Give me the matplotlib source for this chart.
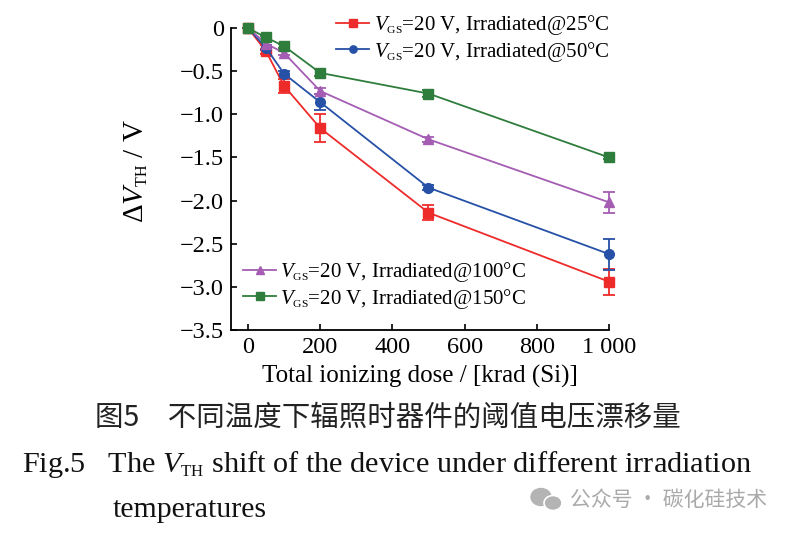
import numpy as np
import matplotlib
matplotlib.use("Agg")
import matplotlib.pyplot as plt
import matplotlib._mathtext as mtext
from matplotlib.patches import Ellipse

# smaller subscripts, closer to the journal style
mtext.SHRINK_FACTOR = 0.55

# ------------------------------ Data ------------------------------
dose = [0, 50, 100, 200, 500, 1000]

dv_25 = [0, -0.27, -0.67, -1.16, -2.14, -2.94]
err_25 = [0, 0.03, 0.08, 0.16, 0.09, 0.15]
dv_50 = [0, -0.23, -0.53, -0.86, -1.85, -2.62]
err_50 = [0, 0.03, 0.03, 0.09, 0.03, 0.18]
dv_100 = [0, -0.18, -0.29, -0.73, -1.29, -2.02]
err_100 = [0, 0.02, 0.02, 0.04, 0.03, 0.12]
dv_150 = [0, -0.11, -0.21, -0.52, -0.76, -1.50]
err_150 = [0, 0.02, 0.02, 0.04, 0.04, 0.02]

labels = [r"$V_{\mathrm{GS}}$=20 V, Irradiated@25°C",
          r"$V_{\mathrm{GS}}$=20 V, Irradiated@50°C",
          r"$V_{\mathrm{GS}}$=20 V, Irradiated@100°C",
          r"$V_{\mathrm{GS}}$=20 V, Irradiated@150°C"]

x_ticks = [0, 200, 400, 600, 800, 1000]
x_ticklabels = ["0", "200", "400", "600", "800", "1 000"]
y_ticks = [0, -0.5, -1.0, -1.5, -2.0, -2.5, -3.0, -3.5]
y_ticklabels = ["0", "\u22120.5", "\u22121.0", "\u22121.5", "\u22122.0",
                "\u22122.5", "\u22123.0", "\u22123.5"]

# --------------------------- Style ---------------------------
plt.rcParams['font.family'] = ['Liberation Serif', 'DejaVu Serif']
plt.rcParams['mathtext.fontset'] = 'custom'
plt.rcParams['mathtext.rm'] = 'Liberation Serif'
plt.rcParams['mathtext.it'] = 'Liberation Serif:italic'
plt.rcParams['mathtext.bf'] = 'Liberation Serif:bold'

C_RED = "#ee2b2b"
C_BLUE = "#2651a6"
C_PURPLE = "#a45db3"
C_GREEN = "#2f7d3c"

fig = plt.figure(figsize=(7.94, 5.34), dpi=100)
ax = fig.add_axes([231/794, 1-330/534, (609-231)/794, (330-28)/534])

series = [(dv_25, err_25, C_RED, 's'),
          (dv_50, err_50, C_BLUE, 'o'),
          (dv_100, err_100, C_PURPLE, '^'),
          (dv_150, err_150, C_GREEN, 's')]

handles = []
for (vals, errs, col, mk), lab in zip(series, labels):
    h = ax.errorbar(dose, vals, yerr=errs, color=col, marker=mk, ms=7,
                    lw=1.3, elinewidth=1.3, capsize=4, capthick=1.3,
                    label=lab)
    h.lines[0].set_clip_on(False)
    for art in list(h.lines[1]) + list(h.lines[2]):
        art.set_clip_on(False)
    handles.append(h.lines[0])

ax.set_xlim(-47, 1000)
ax.set_ylim(-3.5, 0)
ax.set_xticks(x_ticks)
ax.set_xticklabels(x_ticklabels)
ax.set_yticks(y_ticks)
ax.set_yticklabels(y_ticklabels)
ax.tick_params(direction='in', length=4, width=1.2, labelsize=17.5, pad=5)
for s in ['top', 'right']:
    ax.spines[s].set_visible(False)
for s in ['left', 'bottom']:
    ax.spines[s].set_linewidth(1.3)

ax.set_xlabel("Total ionizing dose / [krad (Si)]", fontsize=18, labelpad=5)
ax.set_ylabel(r"$\Delta V_{\mathrm{TH}}$ / V", fontsize=21)
ax.yaxis.set_label_coords((150-231)/378, (330-171)/302)

leg_kw = dict(loc='center left', frameon=False, fontsize=15, borderpad=0,
              borderaxespad=0, handlelength=1.6, handletextpad=0.2,
              labelspacing=0.12, markerscale=0.75)
fig.legend(handles[:2], labels[:2], bbox_to_anchor=(336/794, 1-38.5/534),
           **leg_kw)
fig.legend(handles[2:], labels[2:], bbox_to_anchor=(243/794, 1-285.5/534),
           **leg_kw)

# --------------------------- Captions ---------------------------
fig.text(388/794, 1-418/534, "图5　不同温度下辐照时器件的阈值电压漂移量",
         family=['Noto Sans CJK SC', 'DejaVu Sans'], fontsize=20.5,
         ha='center', va='center', color='#222222')
fig.text(22/794, 1-465/534,
         r"Fig.5   The $V_{\mathrm{TH}}$ shift of the device under different irradiation",
         fontsize=21.8, ha='left', va='center', color='#111111')
fig.text(113/794, 1-510/534, "temperatures", fontsize=21.5,
         ha='left', va='center', color='#111111')

# watermark
fig.patches.append(Ellipse((541/794, 1-497/534), 20/794, 17/534,
                           transform=fig.transFigure, color='#b4b4b4'))
fig.patches.append(Ellipse((553/794, 1-503/534), 18/794, 15/534,
                           transform=fig.transFigure, color='#b4b4b4',
                           ec='white', lw=1.2))
fig.text(570/794, 1-500/534, "公众号 · 碳化硅技术",
         family=['Noto Sans CJK SC', 'DejaVu Sans'], fontsize=15,
         ha='left', va='center', color='#aaaaaa')

fig.savefig("out.png", dpi=100)
